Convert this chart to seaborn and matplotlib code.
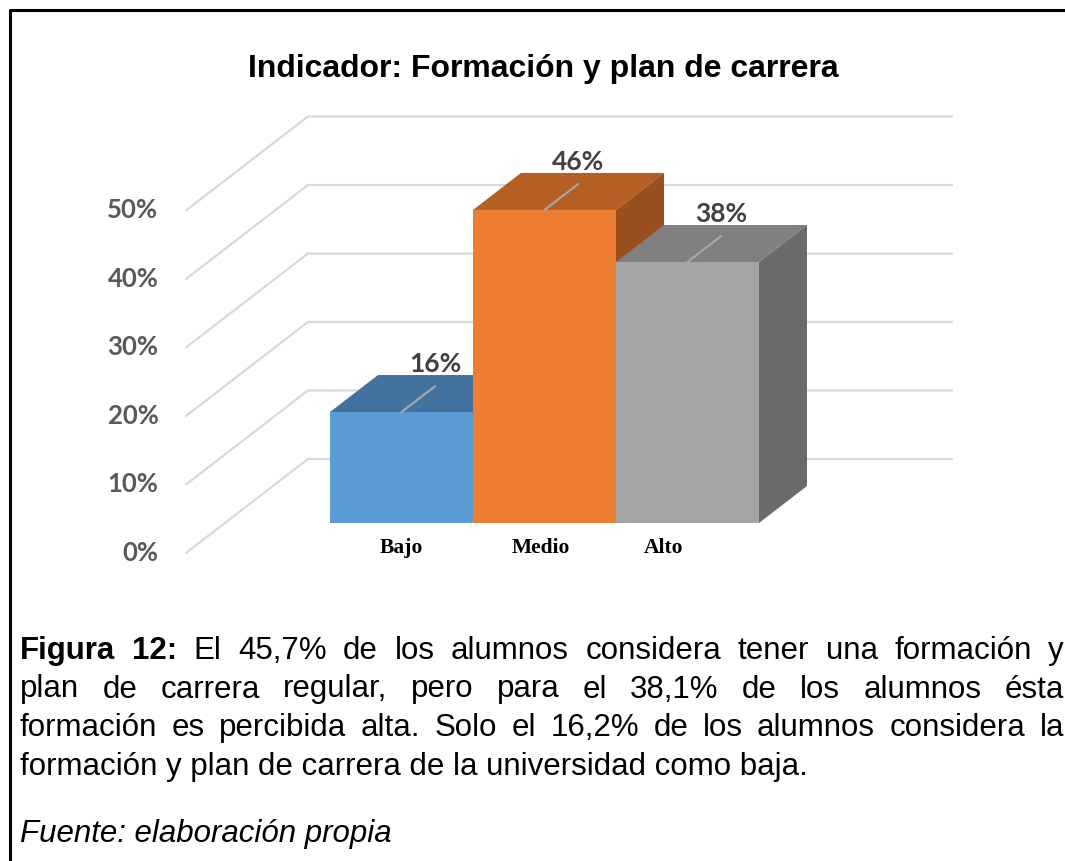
"""
plot.py - Indicador: Formación y plan de carrera (3D-style bar chart with seaborn).
"""

import matplotlib
matplotlib.use("Agg")
import matplotlib.pyplot as plt
import seaborn as sns
import pandas as pd
from matplotlib.lines import Line2D

#####################################
# Data
#####################################

categories = ["Bajo", "Medio", "Alto"]
values = [0.162, 0.457, 0.381]
bar_labels = ["16%", "46%", "38%"]
tick_values = [0.0, 0.1, 0.2, 0.3, 0.4, 0.5]
tick_labels = ["0%", "10%", "20%", "30%", "40%", "50%"]

title = "Indicador: Formación y plan de carrera"
caption_lines = [
    "Figura 12: El 45,7% de los alumnos considera tener una formación y",
    "plan de carrera regular, pero para el 38,1% de los alumnos ésta",
    "formación es percibida alta. Solo el 16,2% de los alumnos considera la",
    "formación y plan de carrera de la universidad como baja.",
]
source = "Fuente: elaboración propia"

#####################################
# Styles
#####################################

front_colors = ["#5B9BD5", "#ED7D31", "#A5A5A5"]
top_colors = ["#44729F", "#B55F24", "#808080"]
side_colors = ["#3A6390", "#9A4F1E", "#6A6A6A"]
grid_color = "#D9D9D9"

W, H = 1065, 861
DPI = 100

# pixel geometry of the front plane of the bars
BAR_LEFT, BAR_RIGHT, BAR_BASE = 330, 759, 523
PX_PER_UNIT_Y = 685
PX_PER_CAT = (BAR_RIGHT - BAR_LEFT) / 3

# depth vector of a bar (pixels -> data units)
DDX = 48 / PX_PER_CAT
DDY = 37 / PX_PER_UNIT_Y
WALL_X = -1.235       # left wall position at the bar front plane
T_FRONT, T_BACK = -0.81, 1.73
RIGHT_X = (952 - BAR_LEFT) / PX_PER_CAT - 0.5


def main() -> None:
    sns.set_style("white")
    fig = plt.figure(figsize=(W / DPI, H / DPI), dpi=DPI)
    fig.patch.set_facecolor("white")

    ax = fig.add_axes([BAR_LEFT / W, (H - BAR_BASE) / H,
                       (BAR_RIGHT - BAR_LEFT) / W, 0.5 * PX_PER_UNIT_Y / H])
    df = pd.DataFrame({"nivel": categories, "valor": values})
    sns.barplot(data=df, x="nivel", y="valor", hue="nivel", palette=front_colors,
                width=1.0, saturation=1, legend=False, linewidth=0, ax=ax)
    ax.set_xlim(-0.5, 2.5)
    ax.set_ylim(0, 0.5)
    ax.axis("off")

    # grid lines on the left wall and the back wall
    for v in tick_values:
        xs = [WALL_X + T_FRONT * DDX, WALL_X + T_BACK * DDX, RIGHT_X]
        ys = [v + T_FRONT * DDY, v + T_BACK * DDY, v + T_BACK * DDY]
        ax.plot(xs, ys, color=grid_color, lw=1.6, clip_on=False, zorder=0.5)

    for v, lab in zip(tick_values, tick_labels):
        ax.text(-1.70, v + T_FRONT * DDY, lab, ha="right", va="center",
                fontsize=18.5, fontweight="bold", color="#595959", family="Lato",
                clip_on=False)

    # 3D faces, leader lines and labels
    for i, patch in enumerate(ax.patches):
        z = 2 + i
        patch.set_zorder(z)
        x0 = patch.get_x()
        x1 = x0 + patch.get_width()
        h = patch.get_height()
        ax.fill([x0, x1, x1 + DDX, x0 + DDX], [h, h, h + DDY, h + DDY],
                color=top_colors[i], lw=0, clip_on=False, zorder=z)
        ax.fill([x1, x1 + DDX, x1 + DDX, x1], [0, DDY, h + DDY, h],
                color=side_colors[i], lw=0, clip_on=False, zorder=z)

        cx = x0 + patch.get_width() / 2
        ex, ey = cx + 0.7 * DDX, h + 0.7 * DDY
        ax.plot([cx, ex], [h, ey], color="#A6A6A6", lw=1.6, clip_on=False, zorder=10)
        ax.text(ex, ey + 22 / PX_PER_UNIT_Y, bar_labels[i], ha="center", va="center",
                fontsize=19, fontweight="bold", color="#404040", family="Lato",
                clip_on=False, zorder=11)

    label_nudge = [0, -4, -24]
    for i, cat in enumerate(categories):
        ax.text(i + label_nudge[i] / PX_PER_CAT, -25 / PX_PER_UNIT_Y, cat,
                ha="center", va="center", fontsize=15.5, fontweight="bold",
                family="Liberation Serif", color="black", clip_on=False)

    # title
    fig.text(543 / W, 1 - 77 / H, title, ha="center", va="baseline",
             fontsize=23, fontweight="bold", family="Liberation Sans", color="black")

    # caption, justified like the document text
    renderer = fig.canvas.get_renderer()
    x_left, x_right = 20, 1064
    fsize = 22.5
    baselines = [659, 697.5, 736, 774.5]
    last = len(caption_lines) - 1
    for n, (line, y_px) in enumerate(zip(caption_lines, baselines)):
        if n == last:
            fig.text(x_left / W, 1 - y_px / H, line, ha="left", va="baseline",
                     fontsize=fsize, family="Liberation Sans", color="black")
            continue
        words = line.split(" ")
        texts = []
        for k, word in enumerate(words):
            bold = n == 0 and k < 2
            t = fig.text(0, 1 - y_px / H, word, ha="left", va="baseline",
                         fontsize=fsize, fontweight="bold" if bold else "normal",
                         family="Liberation Sans", color="black")
            texts.append(t)
        widths = [t.get_window_extent(renderer).width for t in texts]
        gap = (x_right - x_left - sum(widths)) / (len(words) - 1)
        x = x_left
        for t, w in zip(texts, widths):
            t.set_x(x / W)
            x += w + gap

    fig.text(x_left / W, 1 - 842 / H, source, ha="left", va="baseline",
             fontsize=fsize, style="italic", family="Liberation Sans", color="black")

    # document frame (left and top)
    fig.add_artist(Line2D([10 / W, 10 / W, 1.0], [0.0, 1 - 10 / H, 1 - 10 / H],
                          color="black", lw=2.2, transform=fig.transFigure))

    fig.savefig("out.png", dpi=DPI)


if __name__ == "__main__":
    main()
